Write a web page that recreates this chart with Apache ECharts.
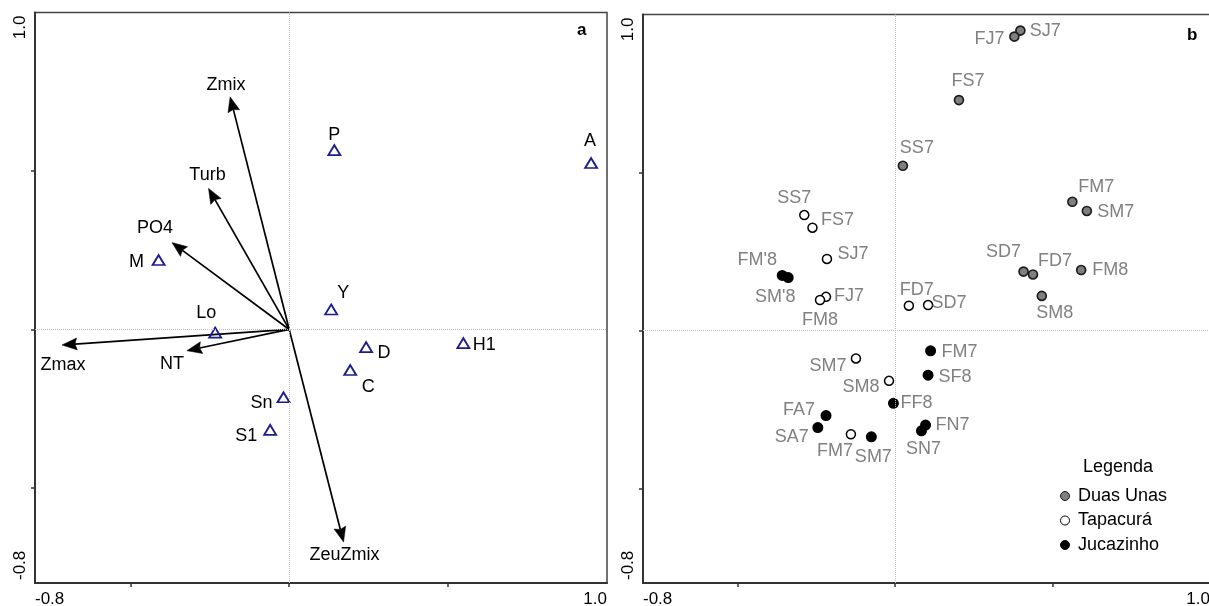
<!DOCTYPE html>
<html><head><meta charset="utf-8">
<script src="https://cdn.jsdelivr.net/npm/echarts@6/dist/echarts.min.js"></script>
<style>html,body{margin:0;padding:0;background:#fff}#c{width:1209px;height:606px}</style>
</head><body><div id="c"></div>
<script>
// ---------- DATA ----------
// Panel a: environmental vectors (arrow tips)
const vectorNames = ['Zmix','Turb','PO4','Zmax','NT','ZeuZmix'];
const vectorX = [-0.186,-0.254,-0.369,-0.715,-0.322,0.171];
const vectorY = [0.734,0.445,0.274,-0.049,-0.067,-0.671];
// Panel a: species (triangles)
const speciesNames = ['M','P','A','Y','Lo','D','C','H1','Sn','S1'];
const speciesX = [-0.411,0.142,0.950,0.132,-0.233,0.242,0.192,0.548,-0.018,-0.060];
const speciesY = [0.219,0.566,0.525,0.063,-0.010,-0.056,-0.128,-0.043,-0.214,-0.317];
// Panel b: samples
const duasNames = ['SJ7','FJ7','FS7','SS7','FM7','SM7','SD7','FD7','FM8','SM8'];
const duasX = [0.398,0.379,0.203,0.025,0.563,0.609,0.408,0.438,0.591,0.466];
const duasY = [0.949,0.930,0.729,0.521,0.407,0.378,0.186,0.177,0.191,0.109];
const tapaNames = ['SS7','FS7','SJ7','FJ7','FM8','FD7','SD7','SM7','SM8','FM7'];
const tapaX = [-0.288,-0.262,-0.216,-0.219,-0.238,0.044,0.105,-0.124,-0.019,-0.140];
const tapaY = [0.365,0.325,0.226,0.106,0.096,0.078,0.080,-0.089,-0.160,-0.329];
const jucaNames = ["FM'8","SM'8",'FM7','SF8','FF8','FN7','SN7','FA7','SA7','SM7'];
const jucaX = [-0.358,-0.339,0.113,0.105,-0.005,0.097,0.084,-0.219,-0.245,-0.075];
const jucaY = [0.174,0.167,-0.065,-0.142,-0.231,-0.300,-0.318,-0.270,-0.308,-0.337];
const seriesNames = ['Duas Unas','Tapacurá','Jucazinho'];
const axisMin = -0.8, axisMax = 1.0;
const tickValues = [-0.5, 0, 0.5];
const labelValues = [-0.8, 1.0];

// ---------- LAYOUT (label offsets in px) ----------
const vectorOff = [[-4,-12],[-1,-13],[-17,-15],[1,20],[-15,13],[1,13]];
const speciesOff = [[-22,2],[0,-15],[-1,-22],[12,-16],[-9,-20],[18,6],[18,17],[21,2],[-22,6],[-24,6]];
const duasOff = [[25,0],[-25,2],[9,-19],[14,-18],[24,-15],[29,1],[-20,-20],[22,-13],[29,0],[13,17]];
const tapaOff = [[-10,-17],[25,-8],[26,-5],[23,-1],[0,20],[8,-16],[21,-2],[-28,8],[-28,6],[-16,17]];
const jucaOff = [[-25,-15],[-13,19],[29,1],[27,2],[23,0],[27,0],[2,18],[-27,-6],[-26,9],[2,20]];

const FONT = '"Liberation Sans", Arial, sans-serif';

function axis(gridIndex, isY) {
  return {
    type: 'value', gridIndex, min: axisMin, max: axisMax,
    axisLine: { show: true, onZero: false, lineStyle: { color: '#333', width: 2 } },
    axisTick: { show: true, customValues: tickValues, length: 4, lineStyle: { color: '#333', width: 1.5 } },
    axisLabel: {
      show: true, customValues: labelValues, formatter: v => Number(v).toFixed(1),
      fontSize: 17, color: '#000', fontFamily: FONT, margin: isY ? 6 : 8,
      rotate: isY ? 90 : 0, alignMinLabel: 'left', alignMaxLabel: 'right',
      padding: isY ? [0, 3, 0, 3] : 0
    },
    splitLine: { show: false }
  };
}

const zeroLines = {
  silent: true, symbol: 'none', label: { show: false }, animation: false,
  lineStyle: { type: 'dotted', color: '#bbb', width: 1 },
  data: [{ xAxis: 0 }, { yAxis: 0 }]
};

function pts(names, xs, ys, offs) {
  return names.map((n, i) => ({ name: n, value: [xs[i], ys[i]], label: { offset: offs[i] } }));
}

const sampleLabel = { show: true, position: 'inside', formatter: '{b}', color: '#808080', fontSize: 18, fontFamily: FONT };

const option = {
  animation: false,
  backgroundColor: '#fff',
  title: [
    { text: 'a', left: 577, top: 22, padding: 0, textStyle: { fontSize: 17, fontWeight: 'bold', color: '#000', fontFamily: FONT } },
    { text: 'b', left: 1187, top: 27, padding: 0, textStyle: { fontSize: 17, fontWeight: 'bold', color: '#000', fontFamily: FONT } },
    { text: 'Legenda', left: 1083, top: 458, padding: 0, textStyle: { fontSize: 18, fontWeight: 'normal', color: '#000', fontFamily: FONT } }
  ],
  legend: {
    data: seriesNames, orient: 'vertical', left: 1060, top: 487, padding: 0,
    itemWidth: 16, itemHeight: 9, itemGap: 6.5, icon: 'circle',
    itemStyle: { borderWidth: 1 },
    textStyle: { fontSize: 18, color: '#000', fontFamily: FONT, lineHeight: 18 }
  },
  grid: [
    { left: 35, right: 602, top: 12.5, bottom: 23, show: true, borderColor: '#444', borderWidth: 1.5, outerBoundsMode: 'none', containLabel: false },
    { left: 643, right: -1, top: 14.5, bottom: 23, show: true, borderColor: '#444', borderWidth: 1.5, outerBoundsMode: 'none', containLabel: false }
  ],
  xAxis: [axis(0, false), axis(1, false)],
  yAxis: [axis(0, true), axis(1, true)],
  series: [
    {
      type: 'scatter', name: 'species', xAxisIndex: 0, yAxisIndex: 0,
      symbol: 'triangle', symbolSize: [12, 10],
      itemStyle: { color: 'rgba(255,255,255,0)', borderColor: '#1c1c8c', borderWidth: 1.8, opacity: 1 },
      label: { show: true, position: 'inside', formatter: '{b}', color: '#000', fontSize: 18, fontFamily: FONT },
      data: pts(speciesNames, speciesX, speciesY, speciesOff),
      markLine: zeroLines
    },
    {
      type: 'custom', name: 'vectors', xAxisIndex: 0, yAxisIndex: 0,
      data: vectorNames.map((n, i) => [vectorX[i], vectorY[i], i]),
      renderItem: function (params, api) {
        const i = api.value(2);
        const o = api.coord([0, 0]);
        const t = api.coord([api.value(0), api.value(1)]);
        const dx = t[0] - o[0], dy = t[1] - o[1];
        const L = Math.hypot(dx, dy), ux = dx / L, uy = dy / L;
        const hl = 15, hw = 6;
        const bx = t[0] - ux * hl, by = t[1] - uy * hl;
        const nx = t[0] - ux * (hl - 2), ny = t[1] - uy * (hl - 2);
        const off = vectorOff[i];
        return {
          type: 'group', children: [
            { type: 'line', shape: { x1: o[0], y1: o[1], x2: nx, y2: ny }, style: { stroke: '#000', lineWidth: 1.7 } },
            { type: 'polygon', shape: { points: [[t[0], t[1]], [bx - uy * hw, by + ux * hw], [nx, ny], [bx + uy * hw, by - ux * hw]] }, style: { fill: '#000', stroke: '#000', lineWidth: 0.5 } },
            { type: 'text', x: t[0] + off[0], y: t[1] + off[1], style: { text: vectorNames[i], fill: '#000', fontSize: 18, fontFamily: FONT, align: 'center', verticalAlign: 'middle' } }
          ]
        };
      }
    },
    {
      type: 'scatter', name: seriesNames[0], xAxisIndex: 1, yAxisIndex: 1,
      symbol: 'circle', symbolSize: 9,
      itemStyle: { color: '#7f7f7f', borderColor: '#1a1a1a', borderWidth: 1.6, opacity: 1 },
      label: sampleLabel,
      data: pts(duasNames, duasX, duasY, duasOff),
      markLine: zeroLines
    },
    {
      type: 'scatter', name: seriesNames[1], xAxisIndex: 1, yAxisIndex: 1,
      symbol: 'circle', symbolSize: 9,
      itemStyle: { color: '#fff', borderColor: '#000', borderWidth: 1.5, opacity: 1 },
      label: sampleLabel,
      data: pts(tapaNames, tapaX, tapaY, tapaOff)
    },
    {
      type: 'scatter', name: seriesNames[2], xAxisIndex: 1, yAxisIndex: 1,
      symbol: 'circle', symbolSize: 9.5,
      itemStyle: { color: '#000', borderColor: '#000', borderWidth: 1.5, opacity: 1 },
      label: sampleLabel,
      data: pts(jucaNames, jucaX, jucaY, jucaOff)
    }
  ]
};

const chart = echarts.init(document.getElementById('c'), null, { renderer: 'canvas' });
chart.setOption(option);
</script>
</body></html>
